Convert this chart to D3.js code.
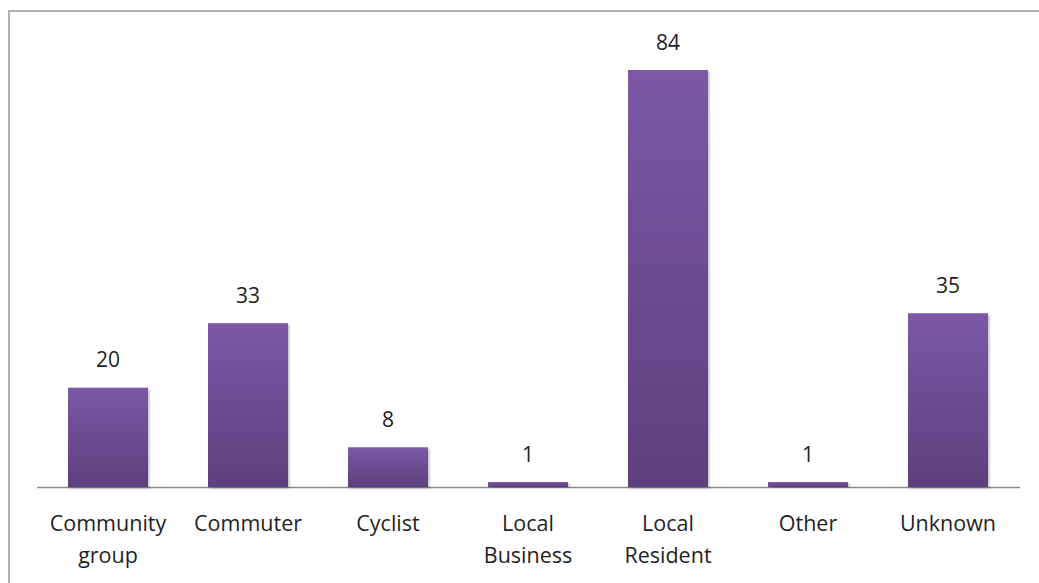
<!DOCTYPE html>
<html><head><meta charset="utf-8">
<script src="https://cdn.jsdelivr.net/npm/d3@7"></script>
<style>body{margin:0;background:#fff;}svg{display:block;}</style>
</head><body>
<script>
const categories = [["Community","group"],["Commuter"],["Cyclist"],["Local","Business"],["Local","Resident"],["Other"],["Unknown"]];
const values = [20,33,8,1,84,1,35];

(function(){
const W=1039,H=583;
const svg=d3.select("body").append("svg").attr("width",W).attr("height",H);
const defs=svg.append("defs");
const g=defs.append("linearGradient").attr("id","bg").attr("x1",0).attr("y1",0).attr("x2",0).attr("y2",1);
g.append("stop").attr("offset","0%").attr("stop-color","#7C58A6");
g.append("stop").attr("offset","100%").attr("stop-color","#5D407D");
const f=defs.append("filter").attr("id","sh").attr("x","-10%").attr("y","-10%").attr("width","130%").attr("height","130%");
f.append("feDropShadow").attr("dx",1.5).attr("dy",1.5).attr("stdDeviation",1.2).attr("flood-color","#000").attr("flood-opacity",0.25);

// frame
svg.append("rect").attr("x",9).attr("y",11).attr("width",W+20).attr("height",H+20)
  .attr("fill","none").attr("stroke","#b3b3b3").attr("stroke-width",2);

const base=487, plotTop=70;
const x=d3.scaleBand().domain(d3.range(categories.length)).range([38,1018]).paddingInner(60/140).paddingOuter(30/140);
const y=d3.scaleLinear().domain([0,84]).range([base,plotTop]);

svg.append("line").attr("x1",37).attr("x2",1020).attr("y1",base+0.5).attr("y2",base+0.5).attr("stroke","#8c8c8c").attr("stroke-width",1.5);

svg.selectAll("rect.bar").data(values).join("rect").attr("class","bar")
  .attr("x",(d,i)=>x(i)).attr("width",x.bandwidth())
  .attr("y",d=>y(d)).attr("height",d=>base-y(d))
  .attr("fill","url(#bg)").attr("filter","url(#sh)");

const font="'Open Sans', sans-serif";
svg.selectAll("text.val").data(values).join("text").attr("class","val")
  .attr("x",(d,i)=>x(i)+x.bandwidth()/2).attr("y",d=>y(d)-20.5)
  .attr("text-anchor","middle").attr("font-family",font).attr("font-size",21).attr("fill","#1f1f1f")
  .text(d=>d);

const lab=svg.selectAll("text.cat").data(categories).join("text").attr("class","cat")
  .attr("text-anchor","middle").attr("font-family",font).attr("font-size",21.5).attr("fill","#1f1f1f");
lab.each(function(d,i){
  const t=d3.select(this);
  d.forEach((s,j)=>t.append("tspan").attr("x",x(i)+x.bandwidth()/2).attr("y",531+j*32).text(s));
});
})();
</script>
</body></html>
